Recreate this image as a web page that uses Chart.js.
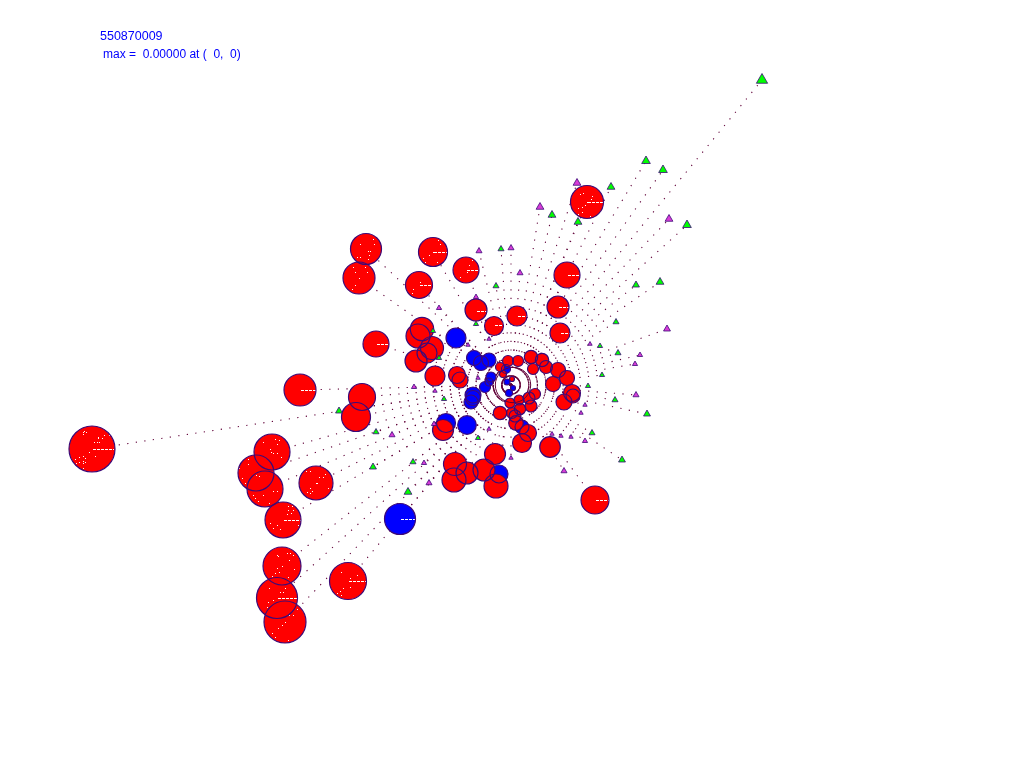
<!DOCTYPE html>
<html lang="en">
<head>
    <meta charset="UTF-8">
    <title>550870009</title>
    <style>
        body{margin:0;background:#fff;}
        .chart_container{position:relative;width:1024px;height:768px;}
        .label{position:absolute;color:#0000ff;font:12px "Liberation Sans",Arial,sans-serif;white-space:pre;}
    </style>
</head>
<body>
    <div class="chart_container">
        <canvas class="focalChart" width="1024" height="768"></canvas>
        <div class="label" style="left:100px;top:29px;font-size:12.5px;">550870009</div>
        <div class="label" style="left:103px;top:47px;">max =  0.00000 at (  0,  0)</div>
    </div>
<script src="https://cdn.jsdelivr.net/npm/chart.js"></script>
<script>
    // in picture pixels
    const centre=[511,385];

    const redX=[92,272,256,265,316,283,282,277,285,348,595,587,366,359,433,419,466,567,476,494,517,558,560,376,422,418,432,427,416,435,457,460,300,362,356,
        500,508,518,503,531,542,533,546,558,567,553,572,573,564,512,535,529,531,519,510,520,500,512,515,516,528,522,550,443,495,455,454,467,484,496];
    const redY=[449,452,473,489,483,520,566,598,622,581,500,202,249,278,252,285,270,275,310,326,316,307,333,344,329,336,348,353,361,376,375,380,390,397,417,
        367,361,361,374,357,360,369,367,370,378,384,393,396,402,379,394,398,406,400,403,409,413,413,416,423,433,443,447,430,454,464,480,473,470,486];
    const redR=[23,18,18,18,17,18,19,20.5,21,18.5,14,16.5,15.5,16,14.5,13.5,13,13,11,9.5,10,11,10,13,11.7,12,11.5,10,11,10,8.5,8,16,13.5,14.5,
        4.5,5.5,5.5,3.5,6.7,6.7,5.5,6.5,7.5,7.5,7.5,8.5,7,8,2.5,5.5,6,6,5,5,5.7,6.7,5.5,6,7.3,8.5,9.5,10.3,10.5,10.5,11.5,12,11,11,12];

    const blueX=[456,474,481,489,506,491,489,485,473,473,471,507,513,509,522,467,446,499,400];
    const blueY=[338,358,363,360,369,377,382,387,395,398,402,382,388,393,427,425,423,474,519];
    const blueR=[10,7.5,7.5,7,4.5,5,4,5.5,8,7.5,7,3,2.5,3.5,7,9.3,9.5,9,15.5];

    const greenX=[762,646,663,611,552,578,687,660,636,501,496,616,618,600,602,588,615,647,592,622,478,376,339,373,413,408,444,476,433,439];
    const greenY=[80,161,170,187,215,222,225,282,285,249,286,322,353,346,375,386,400,414,433,460,438,432,411,467,462,492,399,324,331,358];
    const greenR=[6.5,5,5,4.5,4.5,4.5,5,4.5,4,3.5,3.5,3.5,3.5,3,3,3,3.5,4,3.5,4,3,3.5,4,4,3.5,4.5,3,3,3,3];

    const magX=[577,540,669,479,511,520,476,439,489,590,640,635,667,636,585,581,552,561,571,585,564,511,489,434,392,429,424,414,435,468,478];
    const magY=[183,207,219,251,248,273,297,308,339,344,355,364,329,395,405,413,434,436,437,441,471,458,429,424,435,483,463,387,391,345,378];
    const magR=[4.5,4.5,4.5,3.5,3.5,3.5,3,3,2.5,2.5,3,3,4,3.5,2.5,2.5,2.5,2.5,2.5,3,3.5,2.5,2.5,3,3.5,3.5,3,3,2.5,2.5,2.5];

    // white dashes inside some of the circles: start and end x, and y
    const dashStart=[93,284,349,278,434,467,420,588,568,477,518,559,561,377,495,596,401,301];
    const dashEnd=[114,301,367,297,447,479,432,603,580,487,527,569,570,389,503,609,415,316];
    const dashY=[449,520,581,598,252,270,285,202,275,311,316,307,333,344,325,500,519,390];

    // white specks inside the larger circles
    const speckX=[84,86,83,83,98,98,102,104,94,97,99,89,83,95,79,75,85,79,83,76,85,83,83,107,109,
        263,270,275,279,277,273,277,281,271,248,248,239,256,259,245,247,242,263,255,258,269,273,253,277,
        316,317,310,306,319,323,325,328,310,312,307,310,288,292,293,288,287,291,277,280,273,298,270,
        277,278,287,290,293,289,282,277,279,275,272,288,294,269,285,280,283,268,273,267,
        285,282,278,272,275,268,288,293,289,297,341,357,350,343,350,340,337,341,
        360,373,374,375,368,370,369,368,360,357,353,353,355,365,367,359,355,352,
        438,440,429,433,425,437,423,420,413,412,469,467,460,458,462,472,
        583,580,592,591,587,585,582,578,582,578,590];
    const speckY=[431,432,432,434,437,438,438,435,442,442,442,452,456,456,457,459,458,462,461,463,462,463,468,432,435,
        442,449,439,440,444,453,453,457,452,459,464,468,475,476,483,488,478,495,498,501,503,491,495,491,
        483,483,471,471,477,477,474,488,488,491,492,493,506,506,510,510,514,513,525,529,528,525,523,
        555,556,553,553,555,560,566,568,572,573,576,577,569,588,588,592,592,602,600,607,
        622,625,628,633,637,637,640,615,615,609,572,575,578,588,587,591,593,595,
        244,239,244,236,251,251,255,259,257,257,258,267,272,267,272,278,285,289,
        240,244,255,252,262,262,258,282,289,293,265,272,277,280,282,260,
        193,194,196,199,202,205,207,208,212,214,216];

    const dotColor="#600038";
    const edgeColor="#3c0a78";

    function toPoints(xs,ys,rs){
        return xs.map((x,i)=>({x:x,y:ys[i],r:rs[i]}));
    }
    const red=toPoints(redX,redY,redR);
    const blue=toPoints(blueX,blueY,blueR);
    const allMarks=[...red,...blue,...toPoints(greenX,greenY,greenR),...toPoints(magX,magY,magR)];

    // dotted path from the centre out to each mark
    const rays=allMarks.map(m=>({
        type:'line',
        data:[{x:centre[0],y:centre[1]},{x:m.x,y:m.y}],
        borderColor:dotColor,
        borderWidth:1.1,
        borderDash:[1.2,7.4],
        pointRadius:0,
        tension:0,
        order:20
    }));

    const dashes=dashY.map((y,i)=>({
        type:'line',
        data:[{x:dashStart[i],y:y+0.5},{x:dashEnd[i],y:y+0.5}],
        borderColor:"#ffffff",
        borderWidth:1,
        borderDash:[3,1],
        pointRadius:0,
        tension:0,
        order:5
    }));

    function triangles(xs,ys,rs,fill){
        return {
            type:'scatter',
            data:xs.map((x,i)=>({x:x,y:ys[i]})),
            pointStyle:'triangle',
            pointRadius:rs,
            backgroundColor:fill,
            borderColor:edgeColor,
            borderWidth:0.8,
            order:3
        };
    }

    new Chart(document.querySelector(".focalChart"),{
        type:'bubble',
        data:{datasets:[
            ...rays,
            {data:blue,backgroundColor:"#0000ff",borderWidth:0,order:12},
            {data:red,backgroundColor:"#ff0000",borderWidth:0,order:10},
            ...dashes,
            {type:'scatter',data:speckX.map((x,i)=>({x:x+0.5,y:speckY[i]+0.5})),pointStyle:'rect',pointRadius:0.71,backgroundColor:"#ffffff",borderWidth:0,order:5},
            {data:[...blue,...red],backgroundColor:"rgba(0,0,0,0)",borderColor:edgeColor,borderWidth:1.2,order:4},
            {data:[{x:513,y:385,r:17.7}],backgroundColor:"rgba(0,0,0,0)",borderColor:dotColor,borderWidth:1,order:4},
            triangles(greenX,greenY,greenR,"#00ff00"),
            triangles(magX,magY,magR,"#d83cd8")
        ]},
        options:{
            responsive:false,
            animation:false,
            layout:{padding:0},
            plugins:{legend:{display:false},tooltip:{enabled:false}},
            scales:{
                // the bubbles inset the plot area by the largest radius, so the
                // scale limits are set to the pixels that area ends up on
                x:{type:'linear',min:24.2,max:999.8,display:false},
                y:{type:'linear',min:24.2,max:743.8,reverse:true,display:false}
            }
        }
    });
</script>
</body>
</html>
